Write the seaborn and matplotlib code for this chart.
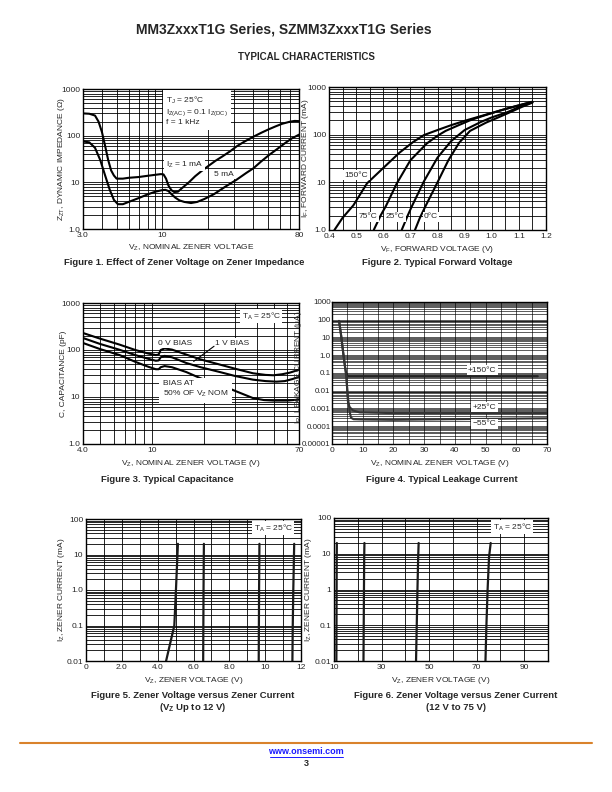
import numpy as np
import pandas as pd
import matplotlib
matplotlib.use("Agg")
import matplotlib.pyplot as plt
import seaborn as sns
from matplotlib.ticker import LogLocator, MultipleLocator, NullFormatter
from matplotlib.lines import Line2D

# Figure 1 - zener impedance vs nominal zener voltage
f1_vz_1ma = [3.0, 3.3, 3.6, 3.8, 4.0, 4.2, 4.4, 4.6, 4.8, 5.0, 5.5, 6.0, 7.0, 8.0, 9.0, 9.8,
             10.2, 10.6, 11.0, 11.5, 12.0, 12.7, 13.5, 15.0, 16.5, 18.0, 20.0, 22.5, 25.0, 28.0,
             31.0, 35.0, 40.0, 45.0, 50.0, 56.0, 62.0, 70.0, 75.0, 80.0]
f1_zz_1ma = [300, 295, 270, 200, 120, 60, 30, 18, 14, 12, 12, 12.5, 13, 13.8, 14.5, 15,
             14.8, 12, 8.5, 6.8, 6.2, 6.3, 7.5, 10, 13.5, 17, 22, 29, 36, 46,
             59, 75, 95, 115, 135, 158, 180, 200, 207, 205]
f1_vz_5ma = [3.0, 3.3, 3.6, 3.9, 4.2, 4.5, 4.8, 5.1, 5.5, 6.0, 7.0, 8.0, 9.0, 10.0, 10.5,
             11.0, 11.5, 12.2, 13.0, 14.0, 15.5, 17.0, 19.0, 22.0, 26.0, 31.0, 36.0, 40.0,
             45.0, 51.0, 58.0, 65.0, 72.0, 80.0]
f1_zz_5ma = [75, 72, 55, 30, 14, 7, 4.2, 3.4, 3.4, 3.8, 4.6, 5.5, 6.3, 6.8, 6.9,
             6.5, 5.6, 4.7, 4.1, 3.8, 3.6, 3.8, 4.4, 5.6, 8, 11.4, 16, 20,
             28, 39, 53, 70, 88, 105]

# Figure 2 - forward voltage
f2_vf_150 = [0.42, 0.45, 0.49, 0.54, 0.60, 0.66, 0.71, 0.75, 0.80, 0.85, 0.90, 0.95, 1.00, 1.05, 1.10, 1.15]
f2_if_150 = [1.0, 1.8, 3.3, 9.5, 20, 42, 70, 98, 125, 158, 195, 236, 285, 345, 410, 490]
f2_vf_75 = [0.565, 0.59, 0.61, 0.65, 0.70, 0.76, 0.80, 0.83, 0.88, 0.92, 0.97, 1.03, 1.09, 1.15]
f2_if_75 = [1.0, 2.0, 3.2, 9.5, 29, 65, 95, 120, 160, 200, 250, 320, 400, 490]
f2_vf_25 = [0.668, 0.69, 0.705, 0.75, 0.80, 0.85, 0.90, 0.96, 1.00, 1.06, 1.10, 1.15]
f2_if_25 = [1.0, 2.0, 3.1, 10.5, 33, 73, 125, 185, 230, 300, 380, 480]
f2_vf_0 = [0.717, 0.735, 0.755, 0.80, 0.84, 0.88, 0.92, 0.98, 1.02, 1.07, 1.11, 1.15]
f2_if_0 = [1.0, 1.8, 3.1, 10, 29, 68, 120, 180, 225, 300, 380, 470]

# Figure 3 - typical capacitance
f3_vz_0v = [4.0, 5.0, 6.5, 8.0, 9.5, 10.5, 10.9, 11.2, 11.8, 13.0, 15.7, 19.0, 24.5, 30.0, 38.0, 45.0, 50.0, 56.0, 62.0, 70.0]
f3_c_0v = [230, 175, 130, 100, 84, 78, 80, 100, 108, 102, 80, 63, 49, 40, 32, 29.5, 29, 30.5, 33, 38]
f3_vz_1v = [4.0, 5.0, 6.5, 8.0, 9.5, 10.5, 10.9, 11.2, 11.8, 13.0, 15.7, 19.0, 24.5, 30.0, 38.0, 45.0, 52.0, 58.0, 64.0, 70.0]
f3_c_1v = [180, 135, 101, 78, 65, 59, 60, 70, 75, 70, 53, 43, 34, 28, 23.4, 21.8, 21.2, 21.8, 24, 26.7]
f3_vz_50 = [4.0, 5.0, 6.5, 8.0, 9.5, 10.5, 10.9, 11.2, 11.8, 13.0, 15.7, 19.0, 24.5, 30.0, 38.0, 44.0, 50.0, 60.0, 70.0]
f3_c_50 = [141, 105, 78, 56, 44, 39, 39, 43, 45.5, 43, 34, 25, 18.3, 13.5, 9.5, 8.6, 8.4, 8.4, 8.8]

# Figure 4 - leakage current
f4_vz_150 = [2.3, 3.0, 3.6, 4.2, 4.7, 5.2, 10, 20, 30, 40, 50, 60, 67]
f4_ir_150 = [86, 12, 1.6, 0.25, 0.08, 0.066, 0.066, 0.066, 0.066, 0.066, 0.066, 0.066, 0.066]
f4_vz_25 = [2.3, 3.0, 3.6, 4.2, 4.7, 5.2, 5.75, 6.8, 9.0, 20, 30, 40, 50, 60, 70]
f4_ir_25 = [86, 12, 1.6, 0.25, 0.05, 0.0023, 0.0012, 0.00078, 0.0006, 0.00055, 0.00055, 0.00055, 0.00055, 0.00055, 0.00055]
f4_vz_m55 = [4.7, 5.0, 5.4, 5.8, 6.2, 7.0, 10, 20, 30, 40, 50, 60, 70]
f4_ir_m55 = [0.066, 0.01, 0.002, 0.0006, 0.0003, 0.00025, 0.00024, 0.00023, 0.00024, 0.00025, 0.00026, 0.00027, 0.00028]

# Figure 5 - zener voltage vs zener current (up to 12 V)
f5_iz = [0.01, 0.1, 1.0, 20]
f5_vz_a = [4.47, 4.93, 5.02, 5.13]
f5_vz_b = [6.54, 6.55, 6.56, 6.58]
f5_vz_c = [9.64, 9.65, 9.66, 9.68]
f5_vz_d = [11.52, 11.54, 11.57, 11.62]

# Figure 6 - zener voltage vs zener current (12 V to 75 V)
f6_iz = [0.01, 0.1, 1.0, 8.0, 20]
f6_vz_a = [11.0, 11.05, 11.1, 11.15, 11.2]
f6_vz_b = [22.4, 22.5, 22.6, 22.7, 22.8]
f6_vz_c = [44.5, 44.8, 45.1, 45.4, 45.6]
f6_vz_d = [73.7, 74.1, 74.6, 75.2, 75.9]

sns.set_style("white")
plt.rcParams['font.family'] = ['Liberation Sans', 'DejaVu Sans']
plt.rcParams['mathtext.default'] = 'regular'

W, H = 612, 792
fig = plt.figure(figsize=(6.12, 7.92), dpi=100)


def px_axes(x0, y0, x1, y1):
    # pixel box -> figure fraction axes
    return fig.add_axes([x0 / W, 1 - y1 / H, (x1 - x0) / W, (y1 - y0) / H])


def style(ax, xlabel, ylabel, ylab_x, ylab_y=0.5, grid_lw=0.6):
    ax.grid(True, which='both', color='black', lw=grid_lw)
    ax.set_axisbelow(True)
    ax.tick_params(which='both', length=0, labelsize=6, pad=2)
    for s in ax.spines.values():
        s.set_color('black')
        s.set_linewidth(1.0)
    ax.set_xlabel(xlabel, fontsize=6, labelpad=3)
    ax.set_ylabel(ylabel, fontsize=6)
    ax.yaxis.set_label_coords(ylab_x, ylab_y)


def log_y(ax, lo, hi, labels):
    ax.set_yscale('log')
    ax.set_ylim(lo, hi)
    ticks = [lo * 10 ** i for i in range(len(labels))]
    ax.set_yticks(ticks, labels=labels)
    ax.yaxis.set_minor_locator(LogLocator(subs=np.arange(2, 10), numticks=30))
    ax.yaxis.set_minor_formatter(NullFormatter())


def curve(ax, x, y, lw=1.5, color='black'):
    df = pd.DataFrame({'x': x, 'y': y})
    sns.lineplot(data=df, x='x', y='y', ax=ax, sort=False, estimator=None,
                 color=color, lw=lw, zorder=3)


box = dict(facecolor='white', edgecolor='none', pad=1.0)

# ---------------- Figure 1
ax1 = px_axes(83, 89, 299, 229)
curve(ax1, f1_vz_1ma, f1_zz_1ma)
curve(ax1, f1_vz_5ma, f1_zz_5ma)
ax1.set_xscale('log')
ax1.set_xlim(3, 80)
ax1.set_xticks([3, 10, 80], labels=['3.0', '10', '80'])
ax1.xaxis.set_minor_locator(LogLocator(subs=np.arange(2, 10), numticks=30))
ax1.xaxis.set_minor_formatter(NullFormatter())
log_y(ax1, 1, 1000, ['1.0', '10', '100', '1000'])
style(ax1, 'V$_Z$, NOMINAL ZENER VOLTAGE', 'Z$_{ZT}$, DYNAMIC IMPEDANCE (Ω)', -0.074)
ax1.text(0.385, 0.96, 'T$_J$ = 25°C\nI$_{Z(AC)}$ = 0.1 I$_{Z(DC)}$\nf = 1 kHz',
         transform=ax1.transAxes, ha='left', va='top', fontsize=6, linespacing=1.25,
         bbox=dict(facecolor='white', edgecolor='none', pad=2.5), zorder=4)
ax1.text(0.47, 0.46, 'I$_Z$ = 1 mA', transform=ax1.transAxes, ha='center', va='center',
         fontsize=6, bbox=box, zorder=4)
ax1.text(0.65, 0.39, '5 mA', transform=ax1.transAxes, ha='center', va='center',
         fontsize=6, bbox=box, zorder=4)

# ---------------- Figure 2
ax2 = px_axes(329, 87, 546, 230)
curve(ax2, f2_vf_150, f2_if_150)
curve(ax2, f2_vf_75, f2_if_75)
curve(ax2, f2_vf_25, f2_if_25)
curve(ax2, f2_vf_0, f2_if_0)
ax2.set_xlim(0.4, 1.2)
ax2.xaxis.set_major_locator(MultipleLocator(0.1))
ax2.xaxis.set_minor_locator(MultipleLocator(0.05))
ax2.xaxis.set_major_formatter(matplotlib.ticker.FormatStrFormatter('%.1f'))
log_y(ax2, 1, 1000, ['1.0', '10', '100', '1000'])
style(ax2, 'V$_F$, FORWARD VOLTAGE (V)', 'I$_F$, FORWARD CURRENT (mA)', -0.083)
for lab, xf, yf in [('150°C', 0.126, 0.384), ('75°C', 0.18, 0.093),
                    ('25°C', 0.303, 0.093), ('0°C', 0.47, 0.093)]:
    ax2.text(xf, yf, lab, transform=ax2.transAxes, ha='center', va='center',
             fontsize=6, bbox=box, zorder=4)

# ---------------- Figure 3
ax3 = px_axes(83, 303, 299, 444)
curve(ax3, f3_vz_0v, f3_c_0v)
curve(ax3, f3_vz_1v, f3_c_1v)
curve(ax3, f3_vz_50, f3_c_50)
ax3.set_xscale('log')
ax3.set_xlim(4, 70)
ax3.set_xticks([4, 10, 70], labels=['4.0', '10', '70'])
ax3.xaxis.set_minor_locator(LogLocator(subs=np.arange(2, 10), numticks=30))
ax3.xaxis.set_minor_formatter(NullFormatter())
log_y(ax3, 1, 1000, ['1.0', '10', '100', '1000'])
style(ax3, 'V$_Z$, NOMINAL ZENER VOLTAGE (V)', 'C, CAPACITANCE (pF)', -0.074)
ax3.text(0.826, 0.905, 'T$_A$ = 25°C', transform=ax3.transAxes, ha='center', va='center',
         fontsize=6, bbox=box, zorder=4)
ax3.text(0.424, 0.716, '0 V BIAS', transform=ax3.transAxes, ha='center', va='center',
         fontsize=6, bbox=box, zorder=4)
ax3.text(0.691, 0.716, '1 V BIAS', transform=ax3.transAxes, ha='center', va='center',
         fontsize=6, bbox=box, zorder=4)
ax3.annotate('', xy=(0.502, 0.574), xytext=(0.617, 0.705), xycoords='axes fraction',
             arrowprops=dict(arrowstyle='-', color='black', lw=0.8), zorder=4)
ax3.text(0.37, 0.385, 'BIAS AT\n50% OF V$_Z$ NOM', transform=ax3.transAxes, ha='left',
         va='center', fontsize=6, linespacing=1.3,
         bbox=dict(facecolor='white', edgecolor='none', pad=2.5), zorder=4)

# ---------------- Figure 4
ax4 = px_axes(332, 302, 547, 444)
curve(ax4, f4_vz_150, f4_ir_150, color='#222222')
curve(ax4, f4_vz_25, f4_ir_25, color='#333333')
curve(ax4, f4_vz_m55, f4_ir_m55, color='#333333')
ax4.set_xlim(0, 70)
ax4.xaxis.set_major_locator(MultipleLocator(10))
ax4.xaxis.set_minor_locator(MultipleLocator(5))
log_y(ax4, 0.00001, 1000, ['0.00001', '0.0001', '0.001', '0.01', '0.1', '1.0', '10', '100', '1000'])
style(ax4, 'V$_Z$, NOMINAL ZENER VOLTAGE (V)', 'I$_R$, LEAKAGE CURRENT (μA)', -0.128,
      ylab_y=0.54, grid_lw=0.45)
ax4.tick_params(axis='y', labelsize=5.8, pad=1)
for lab, xf, yf in [('+150°C', 0.699, 0.52), ('+25°C', 0.71, 0.26), ('\u221255°C', 0.71, 0.142)]:
    ax4.text(xf, yf, lab, transform=ax4.transAxes, ha='center', va='center',
             fontsize=6, bbox=box, zorder=4)

# ---------------- Figure 5
ax5 = px_axes(86, 519, 301, 661)
for vz in [f5_vz_a, f5_vz_b, f5_vz_c, f5_vz_d]:
    curve(ax5, vz, f5_iz, lw=1.6, color='#1a1a1a')
ax5.set_xlim(0, 12)
ax5.set_xticks([0, 2, 4, 6, 8, 10, 12], labels=['0', '2.0', '4.0', '6.0', '8.0', '10', '12'])
ax5.xaxis.set_minor_locator(MultipleLocator(1))
log_y(ax5, 0.01, 100, ['0.01', '0.1', '1.0', '10', '100'])
style(ax5, 'V$_Z$, ZENER VOLTAGE (V)', 'I$_Z$, ZENER CURRENT (mA)', -0.088)
ax5.text(0.871, 0.936, 'T$_A$ = 25°C', transform=ax5.transAxes, ha='center', va='center',
         fontsize=6, bbox=box, zorder=4)

# ---------------- Figure 6
ax6 = px_axes(334, 518, 548, 661)
for vz in [f6_vz_a, f6_vz_b, f6_vz_c, f6_vz_d]:
    curve(ax6, vz, f6_iz, lw=1.6, color='#1a1a1a')
ax6.set_xlim(10, 100)
ax6.set_xticks([10, 30, 50, 70, 90])
ax6.xaxis.set_minor_locator(MultipleLocator(10))
log_y(ax6, 0.01, 100, ['0.01', '0.1', '1', '10', '100'])
style(ax6, 'V$_Z$, ZENER VOLTAGE (V)', 'I$_Z$, ZENER CURRENT (mA)', -0.093)
ax6.text(0.834, 0.937, 'T$_A$ = 25°C', transform=ax6.transAxes, ha='center', va='center',
         fontsize=6, bbox=box, zorder=4)

# ---------------- page text
def ftext(x, y, s, **kw):
    fig.text(x / W, 1 - y / H, s, ha='center', va='center', **kw)

ftext(284, 30, 'MM3ZxxxT1G Series, SZMM3ZxxxT1G Series', fontsize=10, fontweight='bold')
ftext(306, 57, 'TYPICAL CHARACTERISTICS', fontsize=7, fontweight='bold')
ftext(184, 262, 'Figure 1. Effect of Zener Voltage on Zener Impedance', fontsize=6.8, fontweight='bold')
ftext(437, 262, 'Figure 2. Typical Forward Voltage', fontsize=6.8, fontweight='bold')
ftext(167, 479, 'Figure 3. Typical Capacitance', fontsize=6.8, fontweight='bold')
ftext(442, 479, 'Figure 4. Typical Leakage Current', fontsize=6.8, fontweight='bold')
ftext(193, 695, 'Figure 5. Zener Voltage versus Zener Current', fontsize=6.8, fontweight='bold')
ftext(193, 707, '(V$_Z$ Up to 12 V)', fontsize=6.8, fontweight='bold')
ftext(456, 695, 'Figure 6. Zener Voltage versus Zener Current', fontsize=6.8, fontweight='bold')
ftext(456, 707, '(12 V to 75 V)', fontsize=6.8, fontweight='bold')

fig.add_artist(Line2D([20 / W, 592 / W], [1 - 743 / H] * 2, color='#D9822B', lw=1.5))
ftext(306, 752, 'www.onsemi.com', fontsize=6.5, fontweight='bold', color='#1a1aff')
fig.add_artist(Line2D([270 / W, 343 / W], [1 - 757 / H] * 2, color='#1a1aff', lw=0.7))
ftext(306, 763, '3', fontsize=6.5, fontweight='bold')

fig.savefig('out.png', dpi=100)
